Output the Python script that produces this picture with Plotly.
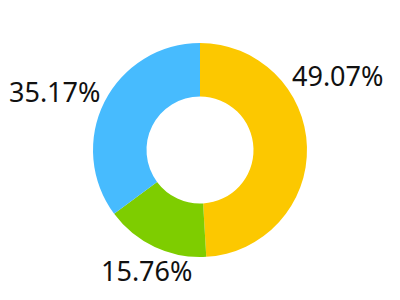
import plotly.graph_objects as go

labels = ["A", "B", "C"]
values = [49.07, 15.76, 35.17]
colors = ["#FCC800", "#7ECD00", "#47BBFE"]
# label anchor positions (paper coords) for each slice's percentage text
label_x = [337 / 400, 146 / 400, 54 / 400]
label_y = [1 - 75 / 300, 1 - 270 / 300, 1 - 91 / 300]

fig = go.Figure(go.Pie(
    labels=labels,
    values=values,
    hole=0.5,
    sort=False,
    direction="clockwise",
    rotation=0,
    marker=dict(colors=colors, line=dict(width=0)),
    textinfo="none",
    hoverinfo="none",
    domain=dict(x=[93 / 400, 307 / 400], y=[1 - 257 / 300, 1 - 43 / 300]),
))

for v, x, y in zip(values, label_x, label_y):
    fig.add_annotation(
        text=f"{v:.2f}%", x=x, y=y, xref="paper", yref="paper",
        showarrow=False, xanchor="center", yanchor="middle",
        font=dict(family="Noto Sans", size=27, color="#111111"),
    )

fig.update_layout(
    width=400, height=300,
    margin=dict(l=0, r=0, t=0, b=0),
    paper_bgcolor="white", plot_bgcolor="white",
    showlegend=False,
)

fig.write_html("out.html")
